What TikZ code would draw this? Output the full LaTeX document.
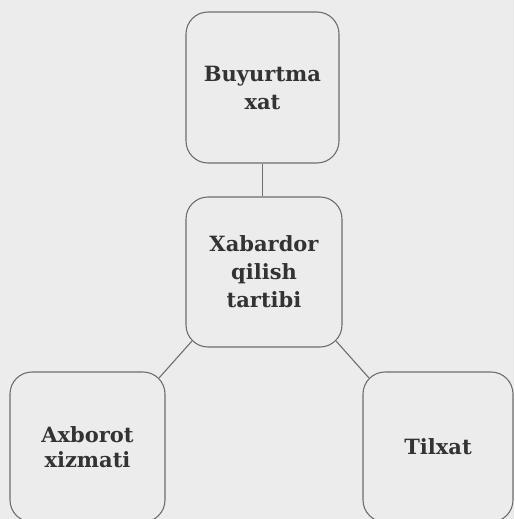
\documentclass[tikz,border=0pt]{standalone}
\usepackage{fontspec}
\setmainfont{DejaVu Serif}
\definecolor{paper}{HTML}{ECECEC}
\definecolor{edge}{HTML}{6E6E6E}
\definecolor{ink}{HTML}{333333}
\begin{document}
\begin{tikzpicture}[x=1pt,y=-1pt,
  box/.style={draw=edge, line width=1.1pt, fill=paper, rounded corners=22pt,
    align=center, text=ink, inner sep=0pt,
    font=\fontsize{21}{28}\selectfont\bfseries},
  link/.style={draw=edge, line width=1.1pt}]
  % page
  \fill[paper] (0,0) rectangle (514,519);
  \useasboundingbox (0,0) rectangle (514,519);
  \begin{scope}
    \clip (0,0) rectangle (514,519);
    % boxes
    \node[box, minimum width=153pt, minimum height=151pt] (order) at (262.5,87.5) {Buyurtma\\xat};
    \node[box, minimum width=156pt, minimum height=150pt] (notice) at (264,272) {Xabardor\\qilish\\tartibi};
    \node[box, minimum width=155pt, minimum height=150pt,
      font=\fontsize{21}{24.5}\selectfont\bfseries] (info) at (87.5,447) {Axborot\\xizmati};
    \node[box, minimum width=150pt, minimum height=150pt] (receipt) at (438,447) {Tilxat};
    % connectors
    \draw[link] (order.south) -- (order.south |- notice.north);
    \draw[link] ([shift={(6.4pt,6.4pt)}]notice.south west) -- ([shift={(-6.4pt,-6.4pt)}]info.north east);
    \draw[link] ([shift={(-6.4pt,6.4pt)}]notice.south east) -- ([shift={(6.4pt,-6.4pt)}]receipt.north west);
  \end{scope}
\end{tikzpicture}
\end{document}
